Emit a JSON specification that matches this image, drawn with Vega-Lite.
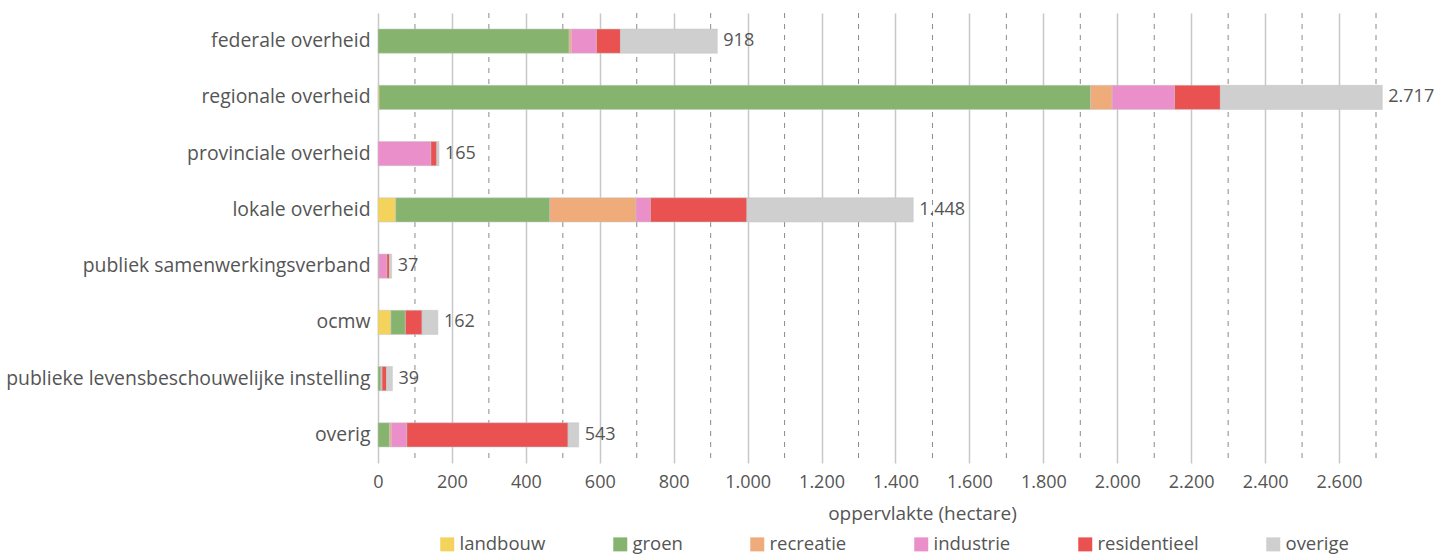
{
  "$schema": "https://vega.github.io/schema/vega-lite/v6.json",
  "width": 998,
  "height": 450,
  "padding": {"left": 5, "top": 12, "right": 0, "bottom": 0},
  "config": {
    "view": {"stroke": null},
    "font": "Open Sans",
    "locale": {"number": {"decimal": ",", "thousands": ".", "grouping": [3], "currency": ["€", ""]}}
  },
  "datasets": {
    "grid": [{"v": 100}, {"v": 300}, {"v": 500}, {"v": 700}, {"v": 900}, {"v": 1100}, {"v": 1300}, {"v": 1500}, {"v": 1700}, {"v": 1900}, {"v": 2100}, {"v": 2300}, {"v": 2500}, {"v": 2700}],
    "opp": [
      {"eigenaar": "federale overheid", "functie": "groen", "o": 2, "ha": 517},
      {"eigenaar": "federale overheid", "functie": "recreatie", "o": 3, "ha": 6},
      {"eigenaar": "federale overheid", "functie": "industrie", "o": 4, "ha": 68},
      {"eigenaar": "federale overheid", "functie": "residentieel", "o": 5, "ha": 65},
      {"eigenaar": "federale overheid", "functie": "overige", "o": 6, "ha": 262},
      {"eigenaar": "regionale overheid", "functie": "landbouw", "o": 1, "ha": 3},
      {"eigenaar": "regionale overheid", "functie": "groen", "o": 2, "ha": 1925},
      {"eigenaar": "regionale overheid", "functie": "recreatie", "o": 3, "ha": 58},
      {"eigenaar": "regionale overheid", "functie": "industrie", "o": 4, "ha": 169},
      {"eigenaar": "regionale overheid", "functie": "residentieel", "o": 5, "ha": 124},
      {"eigenaar": "regionale overheid", "functie": "overige", "o": 6, "ha": 438},
      {"eigenaar": "provinciale overheid", "functie": "industrie", "o": 4, "ha": 143},
      {"eigenaar": "provinciale overheid", "functie": "residentieel", "o": 5, "ha": 16},
      {"eigenaar": "provinciale overheid", "functie": "overige", "o": 6, "ha": 6},
      {"eigenaar": "lokale overheid", "functie": "landbouw", "o": 1, "ha": 48},
      {"eigenaar": "lokale overheid", "functie": "groen", "o": 2, "ha": 417},
      {"eigenaar": "lokale overheid", "functie": "recreatie", "o": 3, "ha": 233},
      {"eigenaar": "lokale overheid", "functie": "industrie", "o": 4, "ha": 39},
      {"eigenaar": "lokale overheid", "functie": "residentieel", "o": 5, "ha": 261},
      {"eigenaar": "lokale overheid", "functie": "overige", "o": 6, "ha": 450},
      {"eigenaar": "publiek samenwerkingsverband", "functie": "groen", "o": 2, "ha": 2},
      {"eigenaar": "publiek samenwerkingsverband", "functie": "industrie", "o": 4, "ha": 22},
      {"eigenaar": "publiek samenwerkingsverband", "functie": "residentieel", "o": 5, "ha": 7},
      {"eigenaar": "publiek samenwerkingsverband", "functie": "overige", "o": 6, "ha": 6},
      {"eigenaar": "ocmw", "functie": "landbouw", "o": 1, "ha": 35},
      {"eigenaar": "ocmw", "functie": "groen", "o": 2, "ha": 39},
      {"eigenaar": "ocmw", "functie": "residentieel", "o": 5, "ha": 45},
      {"eigenaar": "ocmw", "functie": "overige", "o": 6, "ha": 43},
      {"eigenaar": "publieke levensbeschouwelijke instelling", "functie": "groen", "o": 2, "ha": 8},
      {"eigenaar": "publieke levensbeschouwelijke instelling", "functie": "recreatie", "o": 3, "ha": 1},
      {"eigenaar": "publieke levensbeschouwelijke instelling", "functie": "industrie", "o": 4, "ha": 2},
      {"eigenaar": "publieke levensbeschouwelijke instelling", "functie": "residentieel", "o": 5, "ha": 12},
      {"eigenaar": "publieke levensbeschouwelijke instelling", "functie": "overige", "o": 6, "ha": 16},
      {"eigenaar": "overig", "functie": "groen", "o": 2, "ha": 31},
      {"eigenaar": "overig", "functie": "recreatie", "o": 3, "ha": 5},
      {"eigenaar": "overig", "functie": "industrie", "o": 4, "ha": 42},
      {"eigenaar": "overig", "functie": "residentieel", "o": 5, "ha": 436},
      {"eigenaar": "overig", "functie": "overige", "o": 6, "ha": 29}
    ]
  },
  "layer": [
    {
      "data": {"name": "grid"},
      "mark": {"type": "rule", "color": "#8a8a8a", "strokeWidth": 1, "strokeDash": [5, 6]},
      "encoding": {
        "x": {"field": "v", "type": "quantitative"}
      }
    },
    {
      "data": {"name": "opp"},
      "mark": {"type": "bar", "stroke": "#c4c4c4", "strokeWidth": 0.5},
      "encoding": {
        "y": {
          "field": "eigenaar", "type": "nominal", "sort": null,
          "scale": {"paddingInner": 0.57, "paddingOuter": 0.285},
          "axis": {
            "title": null, "ticks": false, "domain": false,
            "labelFontSize": 19.4, "labelColor": "#555555", "labelPadding": 8,
            "labelLimit": 400, "minExtent": 370, "maxExtent": 370
          }
        },
        "x": {
          "field": "ha", "type": "quantitative", "stack": "zero",
          "scale": {"domain": [0, 2700], "nice": false},
          "axis": {
            "title": "oppervlakte (hectare)",
            "values": [0, 200, 400, 600, 800, 1000, 1200, 1400, 1600, 1800, 2000, 2200, 2400, 2600],
            "format": ",d", "labelFlush": false,
            "grid": true, "gridColor": "#c8c8c8", "gridWidth": 1.5,
            "ticks": false, "domain": false,
            "labelFontSize": 18, "labelColor": "#555555", "labelPadding": 10,
            "titleFontSize": 19, "titleFontWeight": "normal", "titleColor": "#555555",
            "titleX": 544, "titleY": 50, "titleBaseline": "middle", "titleAnchor": "middle"
          }
        },
        "color": {
          "field": "functie", "type": "nominal",
          "scale": {
            "domain": ["landbouw", "groen", "recreatie", "industrie", "residentieel", "overige"],
            "range": ["#f3d35c", "#86b46f", "#efab79", "#ea8fc9", "#ea5252", "#cfcfcf"]
          },
          "legend": {
            "title": null, "orient": "none", "direction": "horizontal", "columns": 6,
            "legendX": 60, "legendY": 522, "symbolType": "square", "symbolSize": 196,
            "symbolStrokeWidth": 0, "labelFontSize": 18.5, "labelColor": "#555555",
            "columnPadding": 65, "labelOffset": 3
          }
        },
        "order": {"field": "o", "type": "quantitative"}
      }
    },
    {
      "data": {"name": "opp"},
      "transform": [{"aggregate": [{"op": "sum", "field": "ha", "as": "totaal"}], "groupby": ["eigenaar"]}],
      "mark": {"type": "text", "align": "left", "baseline": "middle", "dx": 6, "fontSize": 18, "color": "#555555"},
      "encoding": {
        "y": {"field": "eigenaar", "type": "nominal", "sort": null},
        "x": {"field": "totaal", "type": "quantitative"},
        "text": {"field": "totaal", "type": "quantitative", "format": ",d"}
      }
    }
  ]
}
